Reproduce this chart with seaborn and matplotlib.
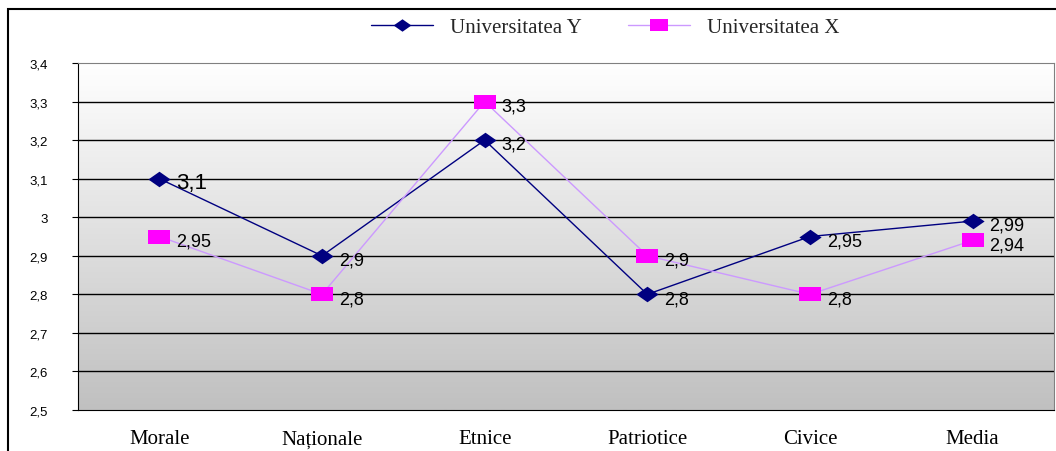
import numpy as np
import pandas as pd
import seaborn as sns
import matplotlib.pyplot as plt
from matplotlib.colors import LinearSegmentedColormap
from matplotlib.patches import Rectangle

categories = ['Morale', 'Naționale', 'Etnice', 'Patriotice', 'Civice', 'Media']
univ_y = [3.1, 2.9, 3.2, 2.8, 2.95, 2.99]
univ_x = [2.95, 2.8, 3.3, 2.9, 2.8, 2.94]
labels_y = ['3,1', '2,9', '3,2', '2,8', '2,95', '2,99']
labels_x = ['2,95', '2,8', '3,3', '2,9', '2,8', '2,94']
yticks = [2.5, 2.6, 2.7, 2.8, 2.9, 3.0, 3.1, 3.2, 3.3, 3.4]
ytick_labels = ['2,5', '2,6', '2,7', '2,8', '2,9', '3', '3,1', '3,2', '3,3', '3,4']

df = pd.DataFrame({
    'cat': categories * 2,
    'val': univ_y + univ_x,
    'univ': ['Universitatea Y'] * 6 + ['Universitatea X'] * 6,
})

sns.set_style('white')
plt.rcParams['font.family'] = ['Liberation Sans', 'DejaVu Sans']

fig = plt.figure(figsize=(10.56, 4.52), dpi=100)
ax = fig.add_axes([78 / 1056, 1 - 411 / 452, 976 / 1056, 347 / 452])

# gradient background, white at top to grey at bottom
grad = np.linspace(0, 1, 256).reshape(-1, 1)
cmap = LinearSegmentedColormap.from_list('g', ['#ffffff', '#c0c0c0'])
ax.imshow(grad, cmap=cmap, aspect='auto', origin='upper',
          extent=[-0.5, 5.5, 2.5, 3.4], zorder=0)

diamond = [(-1, 0), (0, 0.7), (1, 0), (0, -0.7), (-1, 0)]
rect = [(-1, -0.65), (1, -0.65), (1, 0.65), (-1, 0.65), (-1, -0.65)]

sns.lineplot(data=df, x='cat', y='val', hue='univ', style='univ',
             palette={'Universitatea Y': '#000080', 'Universitatea X': '#cc99ff'},
             markers={'Universitatea Y': diamond, 'Universitatea X': rect},
             dashes=False, linewidth=1, markersize=16, sort=False, ax=ax, zorder=3)

handles, labs = ax.get_legend_handles_labels()
for line in list(ax.get_lines()) + list(handles):
    c = plt.matplotlib.colors.to_hex(line.get_color())
    mc = '#ff00ff' if c == '#cc99ff' else '#000080'
    line.set_markerfacecolor(mc)
    line.set_markeredgecolor(mc)
    line.set_markeredgewidth(0)

xs = np.arange(len(categories))
for i in range(len(categories)):
    fs = 16 if i == 0 else 13
    ax.annotate(labels_y[i], (xs[i], univ_y[i]), xytext=(12, -3), textcoords='offset points',
                ha='left', va='center', fontsize=fs, color='black', zorder=5)
    ax.annotate(labels_x[i], (xs[i], univ_x[i]), xytext=(12, -3), textcoords='offset points',
                ha='left', va='center', fontsize=13, color='black', zorder=5)

ax.set_xlim(-0.5, 5.5)
ax.set_ylim(2.5, 3.4)
ax.set_yticks(yticks)
ax.set_yticklabels(ytick_labels, fontsize=9.5, color='black')
for y in yticks[1:-1]:
    ax.axhline(y, color='black', lw=1, zorder=1)
ax.set_xticks(xs)
ax.set_xticklabels(categories, fontsize=15, color='black',
                   family=['Liberation Serif', 'DejaVu Serif'])
ax.set_xticks(np.arange(-0.5, 6, 1), minor=True)
ax.tick_params(axis='x', which='major', length=0, pad=14)
ax.tick_params(axis='x', which='minor', length=4.5, direction='out', color='black')
ax.tick_params(axis='y', length=4.5, direction='out', color='black', left=True, pad=17)
ax.set_xlabel('')
ax.set_ylabel('')
for s in ['left', 'bottom']:
    ax.spines[s].set_color('black')
for s in ['top', 'right']:
    ax.spines[s].set_color('#808080')

ax.legend(handles, labs, loc='center', bbox_to_anchor=(605 / 1056, 1 - 28 / 452),
          bbox_transform=fig.transFigure, ncol=2, frameon=False, markerscale=0.8,
          prop={'family': ['Liberation Serif'], 'size': 15}, handlelength=3,
          columnspacing=2.2)

fig.patches.append(Rectangle((8 / 1056, -0.1), 2, 1.1 - 10 / 452, transform=fig.transFigure,
                             fill=False, edgecolor='black', lw=1.5, figure=fig))

fig.savefig('out.png', dpi=100)
